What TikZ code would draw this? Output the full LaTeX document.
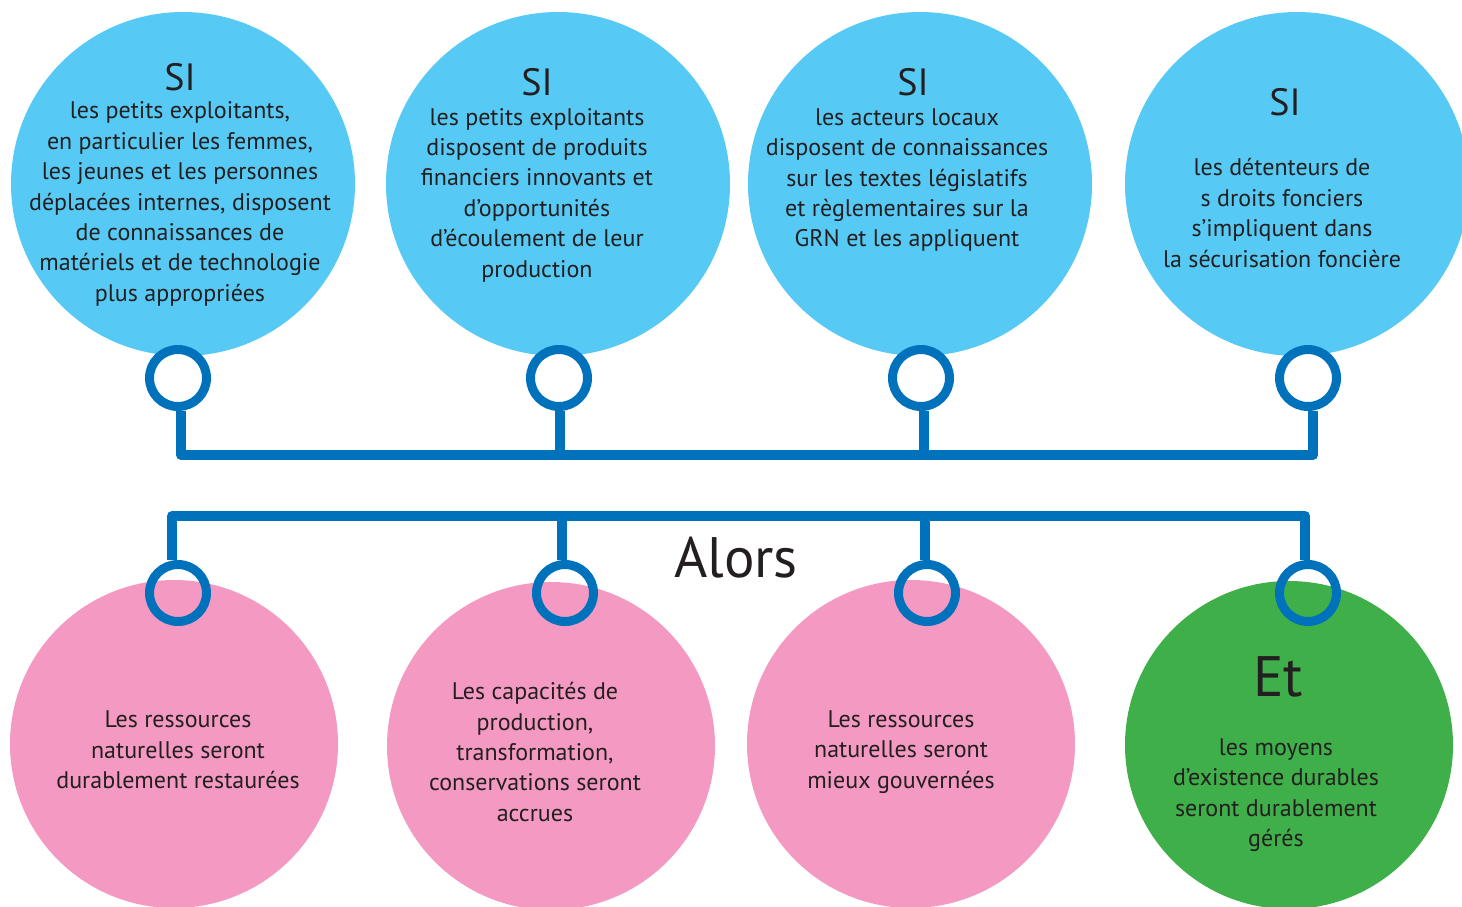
\documentclass[tikz,border=0pt]{standalone}
\usepackage{fontspec}
\setmainfont{PT Sans}
\usetikzlibrary{positioning}
\definecolor{skyblue}{HTML}{56CAF5}
\definecolor{rosepink}{HTML}{F49AC2}
\definecolor{leafgreen}{HTML}{3FAF4A}
\definecolor{linkblue}{HTML}{0072BC}
\definecolor{inkgray}{HTML}{231F20}
\tikzstyle{condition}=[circle, fill=skyblue, minimum size=344pt, inner sep=0pt]
\tikzstyle{outcome}=[circle, fill=rosepink, minimum size=328pt, inner sep=0pt]
\tikzstyle{ring}=[circle, draw=linkblue, line width=9pt, minimum size=57pt, inner sep=0pt]
\tikzstyle{link}=[draw=linkblue, line width=10pt]
\tikzstyle{bar}=[link, line cap=round]
\tikzstyle{bodytext}=[text=inkgray, align=center, inner sep=0pt, font=\fontsize{24}{30.4}\selectfont]
\tikzstyle{heading}=[text=inkgray, inner sep=0pt, font=\fontsize{38}{38}\selectfont]
\tikzstyle{bigword}=[text=inkgray, inner sep=0pt, font=\fontsize{57}{57}\selectfont]

\begin{document}
\begin{tikzpicture}[x=1pt, y=-1pt]
      \useasboundingbox (0, 0) rectangle (1462, 906);
      \clip (0, 0) rectangle (1462, 906);

      % conditions (SI)
      \node[condition] (si_1) at (183, 184) {};
      \node[condition] (si_2) at (558, 184) {};
      \node[condition] (si_3) at (920, 184) {};
      \node[condition] (si_4) at (1297, 184) {};

      \node[heading] (si_1_title) at (180, 77) {SI};
      \node[bodytext] (si_1_text) at (180, 204) {les petits exploitants,\\
        en particulier les femmes,\\ les jeunes et les personnes\\
        déplacées internes, disposent\\ de connaissances de\\
        matériels et de technologie\\ plus appropriées};
      \node[heading] (si_2_title) at (537, 82) {SI};
      \node[bodytext] (si_2_text) at (537, 195) {les petits exploitants\\
        disposent de produits\\ financiers innovants et\\
        d’opportunités\\ d’écoulement de leur\\ production};
      \node[heading] (si_3_title) at (913, 82) {SI};
      \node[bodytext] (si_3_text) at (907, 180) {les acteurs locaux\\
        disposent de connaissances\\ sur les textes législatifs\\
        et règlementaires sur la\\ GRN et les appliquent};
      \node[heading] (si_4_title) at (1285, 102) {SI};
      \node[bodytext] (si_4_text) at (1282, 213) {les détenteurs de\\
        s droits fonciers\\ s’impliquent dans\\ la sécurisation foncière};

      \node[ring, fill=white] (ring_top_1) at (178, 378) {};
      \node[ring, fill=white] (ring_top_2) at (559, 378) {};
      \node[ring, fill=white] (ring_top_3) at (921, 378) {};
      \node[ring, fill=white] (ring_top_4) at (1308, 378) {};

      % outcomes (Alors / Et)
      \node[outcome] (out_1) at (174, 744) {};
      \node[outcome] (out_2) at (551, 746) {};
      \node[outcome] (out_3) at (911, 744) {};
      \node[outcome, fill=leafgreen] (out_4) at (1289, 745) {};

      \node[bodytext] (out_1_text) at (178, 750) {Les ressources\\
        naturelles seront\\ durablement restaurées};
      \node[bodytext] (out_2_text) at (535, 752) {Les capacités de\\
        production,\\ transformation,\\ conservations seront\\ accrues};
      \node[bodytext] (out_3_text) at (901, 752) {Les ressources\\
        naturelles seront\\ mieux gouvernées};
      \node[bigword] (et) at (1278, 677) {Et};
      \node[bodytext] (out_4_text) at (1276, 795) {les moyens\\
        d’existence durables\\ seront durablement\\ gérés};

      \node[bigword] (alors) at (736, 558) {Alors};

      \node[ring] (ring_bot_1) at (178, 593) {};
      \node[ring] (ring_bot_2) at (565, 593) {};
      \node[ring] (ring_bot_3) at (927, 593) {};
      \node[ring] (ring_bot_4) at (1308, 593) {};

      % bars
      \coordinate (top_bar_1) at (181, 455);
      \coordinate (top_bar_2) at (560, 455);
      \coordinate (top_bar_3) at (924, 455);
      \coordinate (top_bar_4) at (1313, 455);
      \coordinate (bot_bar_1) at (172, 516);
      \coordinate (bot_bar_2) at (562, 516);
      \coordinate (bot_bar_3) at (925, 516);
      \coordinate (bot_bar_4) at (1305, 516);

      \draw[bar] (top_bar_1) -- (top_bar_4);
      \draw[bar] (bot_bar_1) -- (bot_bar_4);
      \foreach \i in {1,...,4} {
        \draw[link] (top_bar_\i |- ring_top_\i.south) -- (top_bar_\i);
        \draw[link] (bot_bar_\i) -- (bot_bar_\i |- ring_bot_\i.north);
      }
    \end{tikzpicture}
\end{document}
